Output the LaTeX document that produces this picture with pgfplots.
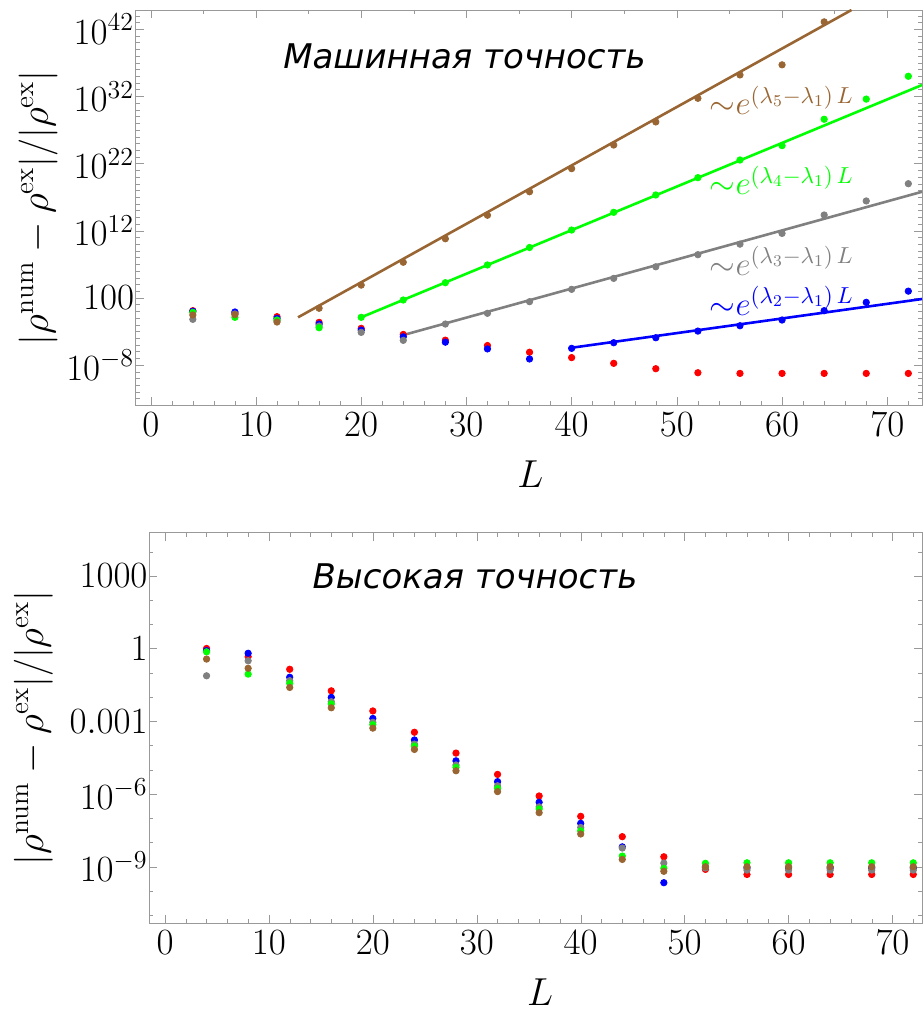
\RequirePackage{fix-cm}
\documentclass[border=0pt]{standalone}
\usepackage{fontspec}
\newfontfamily\titlefont{DejaVu Sans}[ItalicFont={DejaVu Sans Oblique}]
\usepackage{pgfplots}
\usepackage{pgfplotstable}
\pgfplotsset{compat=1.18}

\definecolor{mbrown}{rgb}{0.6,0.4,0.2}
\definecolor{mgreen}{rgb}{0,1,0}
\definecolor{mgray}{rgb}{0.5,0.5,0.5}
\definecolor{mblue}{rgb}{0,0,1}
\definecolor{mred}{rgb}{1,0,0}

% columns: red, blue, gray, green, brown
\pgfplotstableread{
L  r        b        g        gn       br
4  1.23     1.0      6.31e-2  0.692    0.282
8  0.501    0.794    0.398    0.126    0.316
12 0.158    8.91e-2  3.98e-2  5.01e-2  2.51e-2
16 2.24e-2  1.26e-2  6.31e-3  3.55e-3  2.82
20 2.88e-3  1.58e-3  7.24e-4  0.126    7.94e3
24 3.55e-4  1.58e-4  4.68e-5  47.9     2.0e7
28 5.01e-5  2.51e-5  1.26e-2  1.82e4   6.31e10
32 7.94e-6  2.51e-6  0.501    7.94e6   2.0e14
36 7.94e-7  7.94e-8  26.9     3.16e9   6.31e17
40 1.26e-7  3.02e-6  1.86e3   1.26e12  1.74e21
44 1.78e-8  2.09e-5  7.94e4   5.5e14   5.75e24
48 2.82e-9  1.15e-4  4.27e6   2.09e17  1.58e28
52 7.08e-10 1.12e-3  2.69e8   7.94e19  5.25e31
56 5.62e-10 7.08e-3  1.0e10   3.39e22  1.58e35
60 5.62e-10 5.01e-2  3.98e11  4.68e24  5.01e36
64 5.62e-10 1.23     2.19e14  3.98e28  1.26e43
68 5.62e-10 21.4     2.69e16  3.98e31  nan
72 5.62e-10 1000     1.0e19   1.0e35   nan
}\machine

\pgfplotstableread{
L  r        b        g        gn       br
4  1.02     0.832    7.59e-2  0.741    0.372
8  0.468    0.646    0.316    8.91e-2  0.155
12 0.141    6.61e-2  4.79e-2  3.72e-2  2.51e-2
16 1.82e-2  9.77e-3  6.46e-3  5.25e-3  3.63e-3
20 2.69e-3  1.32e-3  9.12e-4  7.24e-4  5.25e-4
24 3.55e-4  1.7e-4   1.15e-4  9.55e-5  6.92e-5
28 4.9e-5   2.34e-5  1.58e-5  1.26e-5  9.12e-6
32 6.46e-6  3.24e-6  2.19e-6  1.7e-6   1.26e-6
36 8.32e-7  4.57e-7  2.95e-7  2.4e-7   1.7e-7
40 1.2e-7   6.17e-8  4.17e-8  3.02e-8  2.24e-8
44 1.74e-8  6.61e-9  5.89e-9  2.75e-9  2.0e-9
48 2.57e-9  2.19e-10 1.41e-9  8.51e-10 6.46e-10
52 7.76e-10 9.55e-10 8.91e-10 1.38e-9  1.0e-9
56 4.79e-10 8.91e-10 7.24e-10 1.45e-9  1.0e-9
60 4.79e-10 8.91e-10 7.24e-10 1.45e-9  1.0e-9
64 4.79e-10 8.91e-10 7.24e-10 1.45e-9  1.0e-9
68 4.79e-10 8.91e-10 7.24e-10 1.45e-9  1.0e-9
72 4.79e-10 8.91e-10 7.24e-10 1.45e-9  1.0e-9
}\high

\tikzset{fitlab/.style={anchor=base, text=#1, font=\fontsize{16.5}{18}\selectfont}}
\newcommand\rholabel{$|\rho^{\mathrm{num}}-\rho^{\mathrm{ex}}|/|\rho^{\mathrm{ex}}|$}

\begin{document}
\begin{tikzpicture}
\useasboundingbox (-67.85pt,-305.35pt) rectangle (393.65pt,202.65pt);

% top panel: machine precision
\begin{axis}[
  scale only axis, ymode=log,
  at={(0pt,0pt)}, anchor=south west,
  width=393.15pt, height=197.65pt,
  xmin=-1.43, xmax=73.3,
  ymin=1e-14, ymax=7.4e44,
  axis line style={mgray!80}, tick style={mgray!80},
  tick align=inside, major tick length=4pt, minor tick length=2pt,
  xtick={0,10,...,70}, minor xtick={2,4,...,72},
  xtick pos=left,
  ytick={1e-8,1e2,1e12,1e22,1e32,1e42},
  yticklabels={$10^{-8}$,$100$,$10^{12}$,$10^{22}$,$10^{32}$,$10^{42}$},
  minor ytick={1e-14,1e-13,1e-12,1e-11,1e-10,1e-9,1e-7,1e-6,1e-5,1e-4,1e-3,1e-2,1e-1,1,10,1e3,1e4,1e5,1e6,1e7,1e8,1e9,1e10,1e11,1e13,1e14,1e15,1e16,1e17,1e18,1e19,1e20,1e21,1e23,1e24,1e25,1e26,1e27,1e28,1e29,1e30,1e31,1e33,1e34,1e35,1e36,1e37,1e38,1e39,1e40,1e41,1e43,1e44},
  ticklabel style={font=\fontsize{18.5}{20}\selectfont},
  yticklabel style={xshift=2.7pt},
  xlabel={$L$}, ylabel={\rholabel},
  xlabel style={font=\fontsize{19.5}{22}\selectfont, at={(axis description cs:0.502,0)}, anchor=north, yshift=-24pt},
  ylabel style={font=\fontsize{19.5}{22}\selectfont, at={(axis description cs:-0.0904,0.5)}, anchor=south},
]
\addplot[no marks, line width=1.3pt, color=mbrown] coordinates {(14,0.126) (66.6,7.4e44)};
\addplot[no marks, line width=1.3pt, color=mgreen] coordinates {(20,0.126) (73.3,5e33)};
\addplot[no marks, line width=1.3pt, color=mgray] coordinates {(24,2.88e-4) (73.3,6.31e17)};
\addplot[no marks, line width=1.3pt, color=mblue] coordinates {(40,3.72e-6) (73.3,67.6)};

\addplot[only marks, mark=*, mark size=1.6pt, color=mred] table[x=L, y=r] {\machine};
\addplot[only marks, mark=*, mark size=1.6pt, color=mblue] table[x=L, y=b] {\machine};
\addplot[only marks, mark=*, mark size=1.6pt, color=mgray] table[x=L, y=g] {\machine};
\addplot[only marks, mark=*, mark size=1.6pt, color=mgreen] table[x=L, y=gn] {\machine};
\addplot[only marks, mark=*, mark size=1.6pt, color=mbrown] table[x=L, y=br] {\machine};

\node[anchor=base] at (rel axis cs:0.418,0.853)
  {\titlefont\itshape\fontsize{17}{20}\selectfont Машинная точность};
\node[fitlab=mbrown] at (rel axis cs:0.8216,0.7344) {${\sim}e^{(\lambda_5-\lambda_1)\,L}$};
\node[fitlab=mgreen] at (rel axis cs:0.8216,0.532) {${\sim}e^{(\lambda_4-\lambda_1)\,L}$};
\node[fitlab=mgray] at (rel axis cs:0.8216,0.3296) {${\sim}e^{(\lambda_3-\lambda_1)\,L}$};
\node[fitlab=mblue] at (rel axis cs:0.8216,0.2284) {${\sim}e^{(\lambda_2-\lambda_1)\,L}$};
\end{axis}

% ticks on the upper edge of the top panel
\begin{axis}[scale only axis,
  at={(0pt,0pt)}, anchor=south west,
  width=393.15pt, height=197.65pt,
  xmin=-1.43, xmax=73.3, ymin=0, ymax=1,
  hide y axis, axis line style={draw=none},
  tick style={mgray!80}, tick align=inside,
  major tick length=4pt, minor tick length=2pt,
  xtick pos=right, xtick={0,10,...,70}, minor xtick={5,15,...,65},
  xticklabels={},
]
\end{axis}

% bottom panel: high precision
\begin{axis}[
  scale only axis, ymode=log,
  at={(6.75pt,-259pt)}, anchor=south west,
  width=386.4pt, height=195.3pt,
  xmin=-1.52, xmax=72.84,
  ymin=4.61e-12, ymax=6.12e4,
  axis line style={mgray!80}, tick style={mgray!80},
  tick align=inside, major tick length=4pt, minor tick length=2pt,
  xtick={0,10,...,70}, minor xtick={2,4,...,72},
  ytick={1e-9,1e-6,1e-3,1,1e3},
  yticklabels={$10^{-9}$,$10^{-6}$,$0.001$,$1$,$1000$},
  minor ytick={1e-11,1e-10,1e-8,1e-7,1e-5,1e-4,1e-2,1e-1,10,100,1e4},
  ticklabel style={font=\fontsize{18.5}{20}\selectfont},
  yticklabel style={xshift=2.7pt},
  xlabel={$L$}, ylabel={\rholabel},
  xlabel style={font=\fontsize{19.5}{22}\selectfont, at={(axis description cs:0.506,0)}, anchor=north, yshift=-24.3pt},
  ylabel style={font=\fontsize{19.5}{22}\selectfont, at={(axis description cs:-0.1155,0.5)}, anchor=south},
]
\addplot[only marks, mark=*, mark size=1.6pt, color=mred] table[x=L, y=r] {\high};
\addplot[only marks, mark=*, mark size=1.6pt, color=mblue] table[x=L, y=b] {\high};
\addplot[only marks, mark=*, mark size=1.6pt, color=mgray] table[x=L, y=g] {\high};
\addplot[only marks, mark=*, mark size=1.6pt, color=mgreen] table[x=L, y=gn] {\high};
\addplot[only marks, mark=*, mark size=1.6pt, color=mbrown] table[x=L, y=br] {\high};

\node[anchor=base] at (rel axis cs:0.4215,0.858)
  {\titlefont\itshape\fontsize{17}{20}\selectfont Высокая точность};
\end{axis}
\end{tikzpicture}
\end{document}
